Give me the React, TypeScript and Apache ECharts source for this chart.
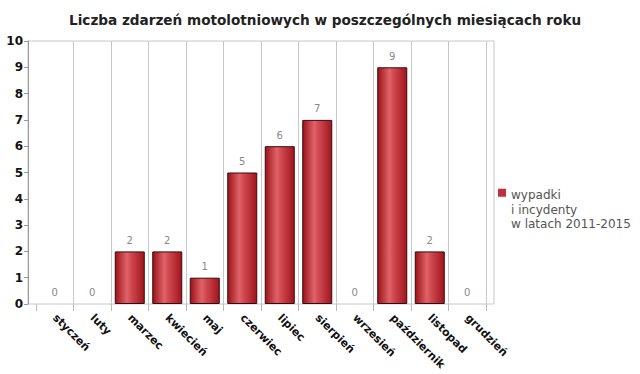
import React, { useEffect, useRef } from "react";
import * as echarts from "echarts";

const months = ["styczeń", "luty", "marzec", "kwiecień", "maj", "czerwiec", "lipiec", "sierpień", "wrzesień", "październik", "listopad", "grudzień"];
const values = [0, 0, 2, 2, 1, 5, 6, 7, 0, 9, 2, 0];
const seriesName = "wypadki\ni incydenty\nw latach 2011-2015";
const titleText = "Liczba zdarzeń motolotniowych w poszczególnych miesiącach roku";
const yMin = 0;
const yMax = 10;
const yStep = 1;

const FONT = "DejaVu Sans";

export default function App() {
  const ref = useRef<HTMLDivElement>(null);
  useEffect(() => {
    if (!ref.current) return;
    const chart = echarts.init(ref.current, null, { renderer: "svg" });
    const n = months.length;
    const barData = values.map((v) =>
      v === 0 ? { value: v, itemStyle: { borderColor: "transparent", color: "transparent" } } : v
    );
    chart.setOption({
      animation: false,
      backgroundColor: "#ffffff",
      title: {
        text: titleText,
        left: 69,
        top: 13,
        padding: 0,
        textStyle: { fontFamily: FONT, fontSize: 13.6, fontWeight: "bold", color: "#222" },
      },
      legend: {
        left: 498,
        top: 188,
        padding: 0,
        orient: "vertical",
        itemWidth: 8,
        itemHeight: 42,
        itemGap: 4,
        icon: "path://M0,0L8,0L8,8L0,8Z M0,42L0.01,42",
        itemStyle: { borderWidth: 0, color: "#c0303a" },
        textStyle: { fontFamily: FONT, fontSize: 12, color: "#555", lineHeight: 14.5 },
        data: [{ name: seriesName }],
      },
      grid: [
        { left: 28, right: 146, top: 41, bottom: 70, show: true, borderColor: "#c8c8c8", borderWidth: 1, backgroundColor: "transparent" },
        { left: 36, right: 154, top: 41, bottom: 70 },
      ],
      xAxis: [
        { gridIndex: 0, type: "value", show: false, min: 0, max: 1 },
        {
          gridIndex: 1,
          type: "category",
          data: months,
          boundaryGap: true,
          axisLine: { show: false },
          axisTick: {
            show: true,
            length: 7,
            lineStyle: { color: "#bbb" },
            interval: 0,
          },
          splitLine: {
            show: true,
            interval: (i: number) => i > 0 && i < n,
            lineStyle: { color: "#c8c8c8", width: 1 },
          },
          axisLabel: {
            rotate: -45,
            interval: 0,
            margin: 12,
            fontFamily: FONT,
            fontSize: 11,
            fontWeight: "bold",
            color: "#111",
          },
        },
      ],
      yAxis: [
        {
          gridIndex: 0,
          type: "value",
          min: yMin,
          max: yMax,
          interval: yStep,
          axisLine: { show: true, lineStyle: { color: "#999" } },
          axisTick: { show: true, length: 4, lineStyle: { color: "#999" } },
          splitLine: { show: false },
          axisLabel: { fontFamily: FONT, fontSize: 12, fontWeight: "bold", color: "#111", margin: 5 },
        },
        { gridIndex: 1, type: "value", min: yMin, max: yMax, interval: yStep, show: false, splitLine: { show: false } },
      ],
      series: [
        {
          name: seriesName,
          type: "bar",
          xAxisIndex: 1,
          yAxisIndex: 1,
          data: barData,
          barWidth: 30,
          itemStyle: {
            color: new echarts.graphic.LinearGradient(0, 0, 1, 0, [
              { offset: 0, color: "#9a1219" },
              { offset: 0.4, color: "#e0636a" },
              { offset: 0.55, color: "#d04850" },
              { offset: 1, color: "#a0151d" },
            ]),
            borderColor: "#3a0a0a",
            borderWidth: 1,
          },
          label: {
            show: true,
            position: "top",
            distance: 6,
            fontFamily: FONT,
            fontSize: 10,
            color: "#888",
          },
        },
      ],
    });
    return () => chart.dispose();
  }, []);
  return <div ref={ref} style={{ width: 640, height: 374, position: "absolute", left: 0, top: 0 }} />;
}
